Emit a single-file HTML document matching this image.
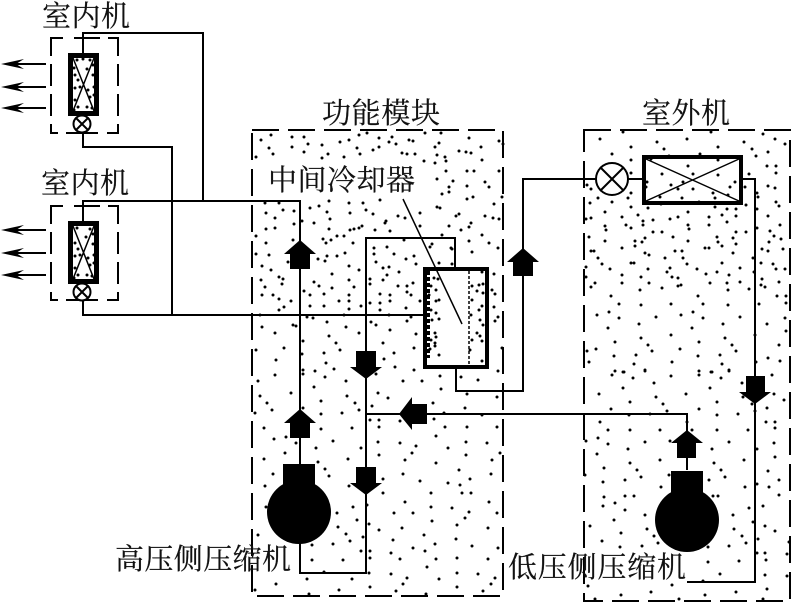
<!DOCTYPE html>
<html>
<head>
<meta charset="utf-8">
<style>
html,body{margin:0;padding:0;background:#fff}
svg{display:block}
text{font-family:"Liberation Serif","Noto Serif CJK SC",serif;font-size:29px;fill:#111;stroke:#111;stroke-width:.2}
</style>
</head>
<body>
<svg width="791" height="602" viewBox="0 0 791 602" xmlns="http://www.w3.org/2000/svg">
<rect width="791" height="602" fill="#fff"/>

<!-- dots: function module -->
<path fill="none" stroke="#000" stroke-width="3" stroke-linecap="round" d="
M271 135h0M292 137h0M304 137h0M261 140h0M269 148h0M292 147h0M308 144h0M322 145h0M304 152h0M273 154h0M256 157h0M328 154h0M322 158h0M344 157h0M340 142h0M349 140h0M359 135h0M367 133h0M357 148h0M360 154h0M373 150h0M379 147h0M379 138h0M392 137h0M389 142h0M396 144h0M409 140h0M413 141h0M402 153h0M407 154h0M415 154h0M424 161h0M425 133h0M441 133h0M439 143h0M435 147h0M437 155h0M445 157h0M446 161h0M435 163h0M459 151h0M466 152h0M471 153h0M469 138h0M481 147h0M482 160h0M499 141h0M503 144h0M499 171h0M446 171h0M467 171h0M474 171h0M437 179h0M453 181h0M467 186h0M485 182h0M489 187h0M449 187h0M449 192h0M442 194h0M473 197h0M467 199h0M502 197h0M494 204h0M437 207h0M440 208h0M459 214h0M456 216h0M485 216h0M493 218h0M499 219h0M471 223h0M469 227h0M461 230h0M449 226h0M482 235h0M442 235h0M432 244h0M451 248h0M469 241h0M489 243h0M498 248h0M472 252h0M265 203h0M279 203h0M283 210h0M294 211h0M266 213h0M275 218h0M294 224h0M302 221h0M266 229h0M275 228h0M293 240h0M256 236h0M266 243h0M269 255h0M256 254h0M310 208h0M319 206h0M329 201h0M327 212h0M330 219h0M314 223h0M329 229h0M349 203h0M363 203h0M350 213h0M366 210h0M373 214h0M380 200h0M350 230h0M354 229h0M359 228h0M362 226h0M375 230h0M385 223h0M386 221h0M390 231h0M398 216h0M405 218h0M420 226h0M420 213h0M404 240h0M323 239h0M331 240h0M337 236h0M344 236h0M326 243h0M353 243h0M374 248h0M387 247h0M374 254h0M394 254h0M414 256h0M430 247h0M452 249h0M345 253h0M327 256h0M337 256h0
M262 266h0M271 270h0M288 262h0M318 259h0M325 261h0M349 266h0M359 270h0M376 262h0M383 268h0M389 267h0M387 275h0M399 272h0M406 259h0M416 264h0M332 274h0M261 280h0M279 277h0M283 279h0M282 284h0M265 287h0M314 282h0M319 286h0M332 288h0M349 280h0M354 287h0M370 279h0M370 284h0M383 280h0M398 286h0M407 286h0M413 283h0M262 295h0M273 295h0M279 299h0M304 291h0M310 295h0M324 294h0M349 295h0M407 292h0M380 294h0M390 295h0M411 295h0M291 301h0M284 307h0M279 310h0M310 306h0M324 306h0M339 301h0M349 301h0M349 309h0M361 306h0M370 303h0M380 303h0M390 301h0M380 310h0M406 308h0M420 301h0M260 315h0M307 317h0M313 318h0M344 315h0M389 315h0M411 317h0M407 321h0M327 322h0M293 325h0M296 326h0M262 327h0M346 327h0M371 322h0M376 325h0M390 330h0M275 333h0M359 333h0M329 336h0M416 334h0M303 341h0M336 343h0M383 343h0M284 348h0M256 350h0M340 350h0M414 348h0M302 354h0M324 353h0M394 353h0M276 360h0M326 363h0M384 359h0M303 370h0M315 371h0M334 369h0M395 367h0M414 370h0M275 375h0M303 374h0M325 377h0M376 374h0M440 376h0M461 377h0M478 380h0M258 381h0M346 381h0M403 381h0M422 381h0M494 274h0M492 290h0M495 294h0M494 307h0M498 317h0M495 321h0M498 371h0M502 348h0M452 264h0M439 263h0
M314 387h0M441 389h0M291 393h0M260 396h0M347 396h0M267 403h0M321 401h0M355 403h0M378 393h0M388 398h0M467 394h0M497 397h0M433 403h0M465 408h0M272 410h0M255 413h0M321 414h0M342 413h0M359 410h0M372 406h0M303 408h0M444 413h0M482 415h0M370 420h0M379 420h0M434 419h0M400 421h0M379 427h0M264 428h0M321 429h0M352 428h0M445 427h0M467 427h0M497 427h0M436 436h0M274 439h0M286 437h0M333 441h0M378 442h0M400 443h0M466 442h0M487 443h0M296 443h0M316 448h0M361 448h0M416 446h0M448 448h0M500 453h0M285 453h0M379 455h0M412 453h0M466 455h0M264 459h0M348 459h0M405 460h0M492 460h0M318 462h0M436 463h0M459 470h0M325 469h0M273 474h0M329 476h0M403 474h0M491 474h0M470 479h0M383 479h0M420 481h0M448 483h0M460 485h0M265 486h0M349 486h0M383 493h0M431 493h0M462 493h0M471 493h0M405 502h0M489 502h0M367 505h0M353 507h0M431 507h0M452 508h0M266 507h0M469 512h0M394 513h0M413 513h0M497 513h0M337 513h0M465 518h0M357 520h0M432 521h0M369 524h0M457 525h0M338 527h0M379 530h0M402 528h0M488 528h0M346 534h0M424 535h0M363 537h0M258 535h0M393 540h0M350 541h0M456 539h0M333 544h0M312 545h0M435 544h0M472 546h0M498 548h0M413 548h0M425 551h0M391 553h0M361 551h0M370 551h0M370 558h0M400 559h0M436 559h0M457 558h0M488 559h0M312 560h0M343 560h0M427 567h0M369 573h0M324 572h0M391 574h0M457 573h0M478 574h0M495 578h0M407 578h0M439 579h0M307 579h0M352 579h0M276 584h0M403 584h0M491 584h0M370 587h0M457 587h0M255 590h0M339 590h0M396 591h0M483 591h0M309 594h0M426 594h0
"/>

<!-- dots: outdoor unit -->
<path fill="none" stroke="#000" stroke-width="3" stroke-linecap="round" d="
M623 132h0M711 132h0M763 134h0M600 139h0M687 139h0M775 139h0M657 142h0M744 142h0M785 144h0M631 147h0M718 147h0M664 149h0M752 149h0M768 152h0M612 154h0M700 154h0M669 156h0M756 156h0M631 160h0M718 160h0M651 159h0M767 166h0M776 166h0M688 166h0M776 173h0M662 174h0M749 174h0M693 174h0M718 175h0M631 173h0M609 175h0M647 182h0M735 182h0M683 182h0M671 185h0M646 187h0M730 187h0M587 185h0M591 189h0M768 186h0M775 188h0M678 189h0M693 189h0M745 187h0M713 193h0M609 189h0M631 193h0M628 198h0M757 193h0M758 197h0M598 198h0M660 197h0M682 198h0M728 195h0M715 198h0M590 203h0M612 202h0M776 202h0M779 206h0M699 202h0M648 208h0M631 207h0M661 204h0M746 205h0M715 207h0M727 209h0M736 209h0M757 209h0M605 212h0M688 212h0M638 215h0M722 215h0M768 216h0M622 217h0M709 217h0M736 216h0M586 219h0M591 218h0M643 221h0M727 222h0M653 220h0M678 217h0M670 219h0M643 225h0M780 225h0M605 226h0M688 225h0M709 225h0M626 225h0M631 228h0M606 230h0M653 232h0M662 232h0M689 229h0M736 232h0M746 232h0M757 228h0M770 231h0M774 236h0M589 237h0M645 238h0M673 237h0M717 237h0M733 238h0M781 239h0M605 241h0M688 241h0M635 241h0M769 242h0M718 242h0M635 246h0M642 242h0M622 248h0M736 244h0M722 246h0M705 248h0M709 248h0M591 251h0M594 251h0M675 251h0M682 251h0M762 249h0M768 251h0M783 249h0M645 253h0M649 255h0M733 253h0M598 258h0M665 258h0M683 258h0M753 258h0M631 263h0M634 263h0M602 264h0M687 264h0M722 263h0M761 263h0M773 264h0M610 269h0M648 269h0M697 269h0M740 268h0M586 267h0M776 269h0M785 269h0M670 268h0M667 272h0M717 272h0M754 272h0M706 274h0M729 275h0M622 275h0M672 277h0M586 277h0M641 277h0M678 278h0M762 279h0M779 282h0M595 283h0M622 283h0M649 283h0M710 283h0M727 283h0M740 282h0M681 285h0M591 287h0M761 285h0M765 287h0
M640 290h0M662 288h0M678 286h0M728 290h0M749 289h0M611 296h0M698 296h0M777 296h0M786 296h0M619 304h0M641 305h0M671 304h0M703 304h0M728 305h0M759 304h0M786 303h0M609 312h0M597 315h0M619 318h0M656 317h0M681 315h0M693 312h0M703 318h0M740 317h0M785 318h0M639 324h0M723 324h0M767 324h0M608 328h0M692 328h0M786 331h0M671 335h0M755 335h0M641 338h0M725 338h0M615 342h0M699 342h0M648 345h0M732 345h0M779 345h0M596 349h0M680 349h0M587 351h0M652 351h0M736 351h0M614 356h0M636 355h0M698 356h0M720 355h0M768 358h0M589 362h0M672 362h0M756 362h0M780 361h0M634 364h0M722 364h0M615 371h0M645 370h0M699 371h0M729 370h0M624 372h0M711 372h0
M623 372h0M645 371h0M671 376h0M699 375h0M712 372h0M729 371h0M612 375h0M633 378h0M721 378h0M772 375h0M654 383h0M623 388h0M710 388h0M742 383h0M599 394h0M686 394h0M774 394h0M656 397h0M743 397h0M630 402h0M717 402h0M784 400h0M663 404h0M752 404h0M611 409h0M699 409h0M667 411h0M767 408h0M629 415h0M717 415h0M650 414h0M738 414h0M755 411h0M600 422h0M687 422h0M766 422h0M775 422h0M775 428h0M608 430h0M630 430h0M660 430h0M692 430h0M717 430h0M748 430h0M598 438h0M586 441h0M645 442h0M670 441h0M729 442h0M608 444h0M774 443h0M628 449h0M712 449h0M757 449h0M597 454h0M775 457h0M660 460h0M744 460h0M630 463h0M714 463h0M604 468h0M637 470h0M721 470h0M768 471h0M585 475h0M641 477h0M725 477h0M669 475h0M603 482h0M625 480h0M709 480h0M779 480h0M757 484h0M661 487h0M745 487h0M769 487h0M604 497h0M625 496h0M634 496h0M713 496h0M718 496h0M779 495h0M615 503h0M603 506h0M749 508h0M763 506h0M625 510h0M645 515h0M733 515h0M614 520h0M753 522h0M590 526h0M765 526h0M647 529h0M734 529h0M775 531h0M621 533h0M654 536h0M742 536h0M758 539h0M602 541h0M658 543h0M746 543h0M789 542h0M620 547h0M642 546h0M708 547h0M729 546h0M757 553h0M765 553h0M787 554h0M766 560h0M708 562h0M739 561h0M720 574h0M765 575h0M787 576h0M703 581h0M672 585h0M588 586h0M767 589h0M651 592h0M736 592h0M621 595h0M705 595h0M595 599h0M679 599h0M763 599h0
"/>

<!-- dashed boxes -->
<g fill="none" stroke="#000" stroke-width="2">
<rect x="252" y="130" width="251" height="466" stroke-dasharray="27 9"/>
<rect x="584" y="130" width="206" height="471" stroke-dasharray="27 9"/>
<path d="M63 38H51V56M51 64V86M51 94V116M51 124V133H58M66 133H98M107 133H118V124M118 116V94M118 86V64M118 56V38H108M100 38H74"/>
<path d="M63 206H51V224M51 232V254M51 262V284M51 292V300H58M66 300H98M107 300H118V292M118 284V262M118 254V232M118 224V206H108M100 206H74"/>
</g>

<!-- indoor coils -->
<g fill="#fff" stroke="#000" stroke-width="5">
<rect x="70.500" y="55.500" width="26" height="58"/>
<rect x="70.500" y="223.500" width="26" height="58"/>
</g>
<path fill="none" stroke="#000" stroke-width="1.500" d="M73 58L94 111M94 58L73 111M73 226L94 279M94 226L73 279"/>
<path fill="none" stroke="#000" stroke-width="3" stroke-linecap="round" d="M77 60h0M83 59h0M90 60h0M93 65h0M87 69h0M74 68h0M75 75h0M78 80h0M93 75h0M94 87h0M75 88h0M80 87h0M88 90h0M90 97h0M75 100h0M94 95h0M74 110h0M87 107h0M92 108h0M78 107h0
M77 228h0M90 229h0M93 234h0M86 237h0M75 243h0M78 249h0M93 244h0M94 255h0M75 256h0M80 255h0M88 258h0M90 265h0M75 268h0M94 263h0M74 278h0M87 275h0M92 276h0M78 275h0"/>

<!-- pipes -->
<g fill="none" stroke="#000" stroke-width="2">
<path d="M83 55V33H203V201"/>
<path d="M83 133V147H172V315"/>
<path d="M83 223V201H300V573H366V238H455V268"/>
<path d="M83 300V315H425"/>
<path d="M456 367V391H523V179H596"/>
<path d="M628 179H643"/>
<path d="M742 179H755V582H687"/>
<path d="M366 414H687V470"/>
</g>

<!-- intercooler -->
<rect x="425" y="269" width="62" height="98" fill="#fff" stroke="#000" stroke-width="4"/>
<path fill="none" stroke="#000" stroke-width="3" d="M428.500 271V358" stroke-dasharray="4 2"/>
<path fill="none" stroke="#000" stroke-width="3" stroke-linecap="round" d="M434 278h0M438 279h0M431 286h0M436 290h0M429 295h0M436 301h0M439 300h0M431 310h0M436 313h0M432 320h0M439 319h0M435 333h0M436 337h0M431 340h0M435 346h0M430 349h0M435 343h0M439 355h0
M482 272h0M472 286h0M479 285h0M483 284h0M477 291h0M483 293h0M472 300h0M482 306h0M479 310h0M471 315h0M480 320h0M483 325h0M477 333h0M480 336h0M482 341h0M472 340h0M470 350h0M482 361h0"/>
<path fill="none" stroke="#000" stroke-width="1.500" stroke-dasharray="3 2" d="M469 271V365"/>

<!-- outdoor coil -->
<rect x="644" y="157" width="97" height="46" fill="none" stroke="#000" stroke-width="4"/>
<path fill="none" stroke="#000" stroke-width="1.500" d="M646 159L739 201M739 159L646 201"/>

<!-- valves -->
<g fill="#fff" stroke="#000" stroke-width="2">
<circle cx="82" cy="124" r="8.500"/>
<circle cx="82" cy="292" r="8.500"/>
<circle cx="612" cy="179" r="16"/>
</g>
<path fill="none" stroke="#000" stroke-width="2" d="M76 118L88 130M88 118L76 130M76 286L88 298M88 286L76 298M600 167L624 191M624 167L600 191"/>

<!-- leader -->
<path d="M403 199L462 324" stroke="#000" stroke-width="1.500" fill="none"/>

<!-- air arrows -->
<path fill="none" stroke="#000" stroke-width="2" d="M8 64H46M8 87H46M8 108H46M8 230H46M8 253H46M8 275H46"/>
<g fill="#000">
<path d="M1 64L24 59L16 64L24 69Z"/>
<path d="M1 87L24 82L16 87L24 92Z"/>
<path d="M1 108L24 103L16 108L24 113Z"/>
<path d="M1 230L24 225L16 230L24 235Z"/>
<path d="M1 253L24 248L16 253L24 258Z"/>
<path d="M1 275L24 270L16 275L24 280Z"/>

<!-- flow arrows -->
<path d="M300 240L316 254H310V269H290V254H284Z"/>
<path d="M300 409L316 423H310V438H290V423H284Z"/>
<path d="M523 248L539 262H533V276H513V262H507Z"/>
<path d="M687 430L703 443H696V458H677V443H671Z"/>
<path d="M356 351H376V367H382L366 379L350 367H356Z"/>
<path d="M356 467H376V483H382L366 495L350 483H356Z"/>
<path d="M746 376H765V392H771L755 404L739 392H746Z"/>
<path d="M399 414L412 397V404H427V424H412V430Z"/>

<!-- compressors -->
<rect x="283" y="464" width="32" height="26"/>
<circle cx="299" cy="512" r="32"/>
<rect x="671" y="471" width="32" height="26"/>
<circle cx="687" cy="520" r="32"/>
</g>

<!-- labels -->
<text x="42" y="26" textLength="88" lengthAdjust="spacing">室内机</text>
<text x="41" y="193" textLength="88" lengthAdjust="spacing">室内机</text>
<text x="322" y="123" textLength="118" lengthAdjust="spacing">功能模块</text>
<text x="642" y="123" textLength="88" lengthAdjust="spacing">室外机</text>
<text x="268" y="190" textLength="147" lengthAdjust="spacing">中间冷却器</text>
<text x="115" y="569" textLength="176" lengthAdjust="spacing">高压侧压缩机</text>
<text x="508" y="577" textLength="178" lengthAdjust="spacing">低压侧压缩机</text>
</svg>
</body>
</html>
